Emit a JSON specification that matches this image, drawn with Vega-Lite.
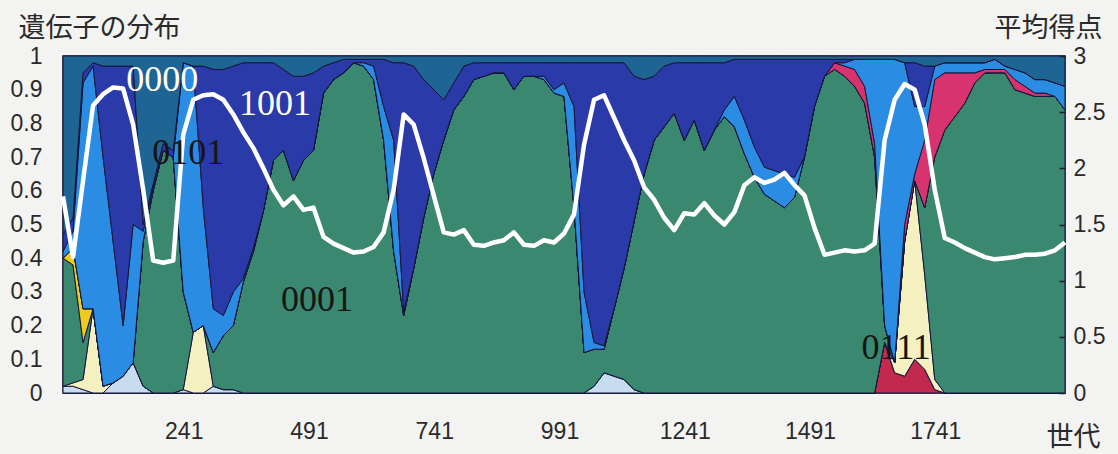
{
 "$schema": "https://vega.github.io/schema/vega-lite/v6.json",
 "width": 1002, "height": 337,
 "autosize": {"type": "none"},
 "padding": {"left": 63, "top": 56, "right": 53, "bottom": 61},
 "background": "#f3f3f1",
 "config": {
  "view": {"stroke": "#1c1c30", "strokeWidth": 1.5},
  "axis": {"labelFont": "Liberation Sans", "labelFontSize": 23, "labelColor": "#2a2a2a", "titleFont": "Noto Sans CJK JP", "titleFontSize": 27, "titleFontWeight": "normal", "titleColor": "#2a2a2a", "domain": false, "ticks": false, "grid": false}
 },
 "data": {"values": [
  {"gen":0,"a_red":0,"b_pale":0.02,"c_0111":0,"d_0001":0.38,"e_yel":0,"f_mag":0,"g_0000":0.02,"h_1001":0.05,"i_0101":0.53,"score":1.75},
  {"gen":20,"a_red":0,"b_pale":0.02,"c_0111":0.01,"d_0001":0.35,"e_yel":0.05,"f_mag":0,"g_0000":0.05,"h_1001":0.04,"i_0101":0.48,"score":1.21},
  {"gen":40,"a_red":0,"b_pale":0.01,"c_0111":0.03,"d_0001":0.11,"e_yel":0.10,"f_mag":0,"g_0000":0.67,"h_1001":0.03,"i_0101":0.05,"score":1.89},
  {"gen":60,"a_red":0,"b_pale":0,"c_0111":0.25,"d_0001":0,"e_yel":0,"f_mag":0,"g_0000":0.72,"h_1001":0.01,"i_0101":0.02,"score":2.56},
  {"gen":80,"a_red":0,"b_pale":0,"c_0111":0.02,"d_0001":0,"e_yel":0,"f_mag":0,"g_0000":0.68,"h_1001":0.27,"i_0101":0.03,"score":2.66},
  {"gen":100,"a_red":0,"b_pale":0.03,"c_0111":0,"d_0001":0,"e_yel":0,"f_mag":0,"g_0000":0.42,"h_1001":0.52,"i_0101":0.03,"score":2.72},
  {"gen":120,"a_red":0,"b_pale":0.05,"c_0111":0,"d_0001":0,"e_yel":0,"f_mag":0,"g_0000":0.15,"h_1001":0.77,"i_0101":0.03,"score":2.71},
  {"gen":140,"a_red":0,"b_pale":0.09,"c_0111":0,"d_0001":0,"e_yel":0,"f_mag":0,"g_0000":0.41,"h_1001":0.47,"i_0101":0.03,"score":2.39},
  {"gen":160,"a_red":0,"b_pale":0.02,"c_0111":0,"d_0001":0.43,"e_yel":0,"f_mag":0,"g_0000":0.03,"h_1001":0.02,"i_0101":0.50,"score":1.81},
  {"gen":180,"a_red":0,"b_pale":0,"c_0111":0,"d_0001":0.60,"e_yel":0,"f_mag":0,"g_0000":0.01,"h_1001":0.01,"i_0101":0.38,"score":1.18},
  {"gen":200,"a_red":0,"b_pale":0,"c_0111":0,"d_0001":0.72,"e_yel":0,"f_mag":0,"g_0000":0,"h_1001":0.02,"i_0101":0.26,"score":1.16},
  {"gen":220,"a_red":0,"b_pale":0,"c_0111":0,"d_0001":0.70,"e_yel":0,"f_mag":0,"g_0000":0,"h_1001":0.02,"i_0101":0.28,"score":1.18},
  {"gen":240,"a_red":0,"b_pale":0.01,"c_0111":0,"d_0001":0.29,"e_yel":0,"f_mag":0,"g_0000":0.68,"h_1001":0,"i_0101":0.02,"score":2.30},
  {"gen":260,"a_red":0,"b_pale":0,"c_0111":0.18,"d_0001":0,"e_yel":0,"f_mag":0,"g_0000":0.79,"h_1001":0,"i_0101":0.03,"score":2.61},
  {"gen":280,"a_red":0,"b_pale":0,"c_0111":0.20,"d_0001":0,"e_yel":0,"f_mag":0,"g_0000":0.35,"h_1001":0.42,"i_0101":0.03,"score":2.65},
  {"gen":300,"a_red":0,"b_pale":0.02,"c_0111":0,"d_0001":0.10,"e_yel":0,"f_mag":0,"g_0000":0.13,"h_1001":0.71,"i_0101":0.04,"score":2.66},
  {"gen":320,"a_red":0,"b_pale":0.01,"c_0111":0,"d_0001":0.16,"e_yel":0,"f_mag":0,"g_0000":0.06,"h_1001":0.73,"i_0101":0.04,"score":2.61},
  {"gen":340,"a_red":0,"b_pale":0.01,"c_0111":0,"d_0001":0.19,"e_yel":0,"f_mag":0,"g_0000":0.10,"h_1001":0.67,"i_0101":0.03,"score":2.48},
  {"gen":360,"a_red":0,"b_pale":0,"c_0111":0,"d_0001":0.33,"e_yel":0,"f_mag":0,"g_0000":0.01,"h_1001":0.64,"i_0101":0.02,"score":2.32},
  {"gen":380,"a_red":0,"b_pale":0,"c_0111":0,"d_0001":0.42,"e_yel":0,"f_mag":0,"g_0000":0.01,"h_1001":0.55,"i_0101":0.02,"score":2.18},
  {"gen":400,"a_red":0,"b_pale":0,"c_0111":0,"d_0001":0.54,"e_yel":0,"f_mag":0,"g_0000":0,"h_1001":0.44,"i_0101":0.02,"score":2.00},
  {"gen":420,"a_red":0,"b_pale":0,"c_0111":0,"d_0001":0.69,"e_yel":0,"f_mag":0,"g_0000":0,"h_1001":0.29,"i_0101":0.02,"score":1.81},
  {"gen":440,"a_red":0,"b_pale":0,"c_0111":0,"d_0001":0.72,"e_yel":0,"f_mag":0,"g_0000":0,"h_1001":0.24,"i_0101":0.04,"score":1.67},
  {"gen":460,"a_red":0,"b_pale":0,"c_0111":0,"d_0001":0.63,"e_yel":0,"f_mag":0,"g_0000":0,"h_1001":0.31,"i_0101":0.06,"score":1.75},
  {"gen":480,"a_red":0,"b_pale":0,"c_0111":0,"d_0001":0.69,"e_yel":0,"f_mag":0,"g_0000":0,"h_1001":0.25,"i_0101":0.06,"score":1.63},
  {"gen":500,"a_red":0,"b_pale":0,"c_0111":0,"d_0001":0.72,"e_yel":0,"f_mag":0,"g_0000":0,"h_1001":0.23,"i_0101":0.05,"score":1.65},
  {"gen":520,"a_red":0,"b_pale":0,"c_0111":0,"d_0001":0.89,"e_yel":0,"f_mag":0,"g_0000":0,"h_1001":0.08,"i_0101":0.03,"score":1.39},
  {"gen":540,"a_red":0,"b_pale":0,"c_0111":0,"d_0001":0.93,"e_yel":0,"f_mag":0,"g_0000":0,"h_1001":0.05,"i_0101":0.02,"score":1.33},
  {"gen":560,"a_red":0,"b_pale":0,"c_0111":0,"d_0001":0.95,"e_yel":0,"f_mag":0,"g_0000":0,"h_1001":0.04,"i_0101":0.01,"score":1.29},
  {"gen":580,"a_red":0,"b_pale":0,"c_0111":0,"d_0001":0.98,"e_yel":0,"f_mag":0,"g_0000":0,"h_1001":0.01,"i_0101":0.01,"score":1.25},
  {"gen":600,"a_red":0,"b_pale":0,"c_0111":0,"d_0001":0.97,"e_yel":0,"f_mag":0,"g_0000":0.01,"h_1001":0.01,"i_0101":0.01,"score":1.26},
  {"gen":620,"a_red":0,"b_pale":0,"c_0111":0,"d_0001":0.93,"e_yel":0,"f_mag":0,"g_0000":0.04,"h_1001":0.02,"i_0101":0.01,"score":1.30},
  {"gen":640,"a_red":0,"b_pale":0,"c_0111":0,"d_0001":0.75,"e_yel":0,"f_mag":0,"g_0000":0.10,"h_1001":0.14,"i_0101":0.01,"score":1.43},
  {"gen":660,"a_red":0,"b_pale":0,"c_0111":0,"d_0001":0.42,"e_yel":0,"f_mag":0,"g_0000":0.33,"h_1001":0.23,"i_0101":0.02,"score":1.81},
  {"gen":680,"a_red":0,"b_pale":0,"c_0111":0,"d_0001":0.23,"e_yel":0,"f_mag":0,"g_0000":0.01,"h_1001":0.74,"i_0101":0.02,"score":2.48},
  {"gen":700,"a_red":0,"b_pale":0,"c_0111":0,"d_0001":0.37,"e_yel":0,"f_mag":0,"g_0000":0,"h_1001":0.60,"i_0101":0.03,"score":2.39},
  {"gen":720,"a_red":0,"b_pale":0,"c_0111":0,"d_0001":0.52,"e_yel":0,"f_mag":0,"g_0000":0,"h_1001":0.41,"i_0101":0.07,"score":2.09},
  {"gen":740,"a_red":0,"b_pale":0,"c_0111":0,"d_0001":0.65,"e_yel":0,"f_mag":0,"g_0000":0,"h_1001":0.25,"i_0101":0.10,"score":1.76},
  {"gen":760,"a_red":0,"b_pale":0,"c_0111":0,"d_0001":0.75,"e_yel":0,"f_mag":0,"g_0000":0,"h_1001":0.12,"i_0101":0.13,"score":1.43},
  {"gen":780,"a_red":0,"b_pale":0,"c_0111":0,"d_0001":0.84,"e_yel":0,"f_mag":0,"g_0000":0,"h_1001":0.08,"i_0101":0.08,"score":1.41},
  {"gen":800,"a_red":0,"b_pale":0,"c_0111":0,"d_0001":0.88,"e_yel":0,"f_mag":0,"g_0000":0,"h_1001":0.09,"i_0101":0.03,"score":1.45},
  {"gen":820,"a_red":0,"b_pale":0,"c_0111":0,"d_0001":0.93,"e_yel":0,"f_mag":0,"g_0000":0,"h_1001":0.05,"i_0101":0.02,"score":1.32},
  {"gen":840,"a_red":0,"b_pale":0,"c_0111":0,"d_0001":0.94,"e_yel":0,"f_mag":0,"g_0000":0,"h_1001":0.04,"i_0101":0.02,"score":1.31},
  {"gen":860,"a_red":0,"b_pale":0,"c_0111":0,"d_0001":0.95,"e_yel":0,"f_mag":0,"g_0000":0,"h_1001":0.03,"i_0101":0.02,"score":1.34},
  {"gen":880,"a_red":0,"b_pale":0,"c_0111":0,"d_0001":0.95,"e_yel":0,"f_mag":0,"g_0000":0,"h_1001":0.03,"i_0101":0.02,"score":1.36},
  {"gen":900,"a_red":0,"b_pale":0,"c_0111":0,"d_0001":0.90,"e_yel":0,"f_mag":0,"g_0000":0,"h_1001":0.08,"i_0101":0.02,"score":1.43},
  {"gen":920,"a_red":0,"b_pale":0,"c_0111":0,"d_0001":0.94,"e_yel":0,"f_mag":0,"g_0000":0,"h_1001":0.04,"i_0101":0.02,"score":1.32},
  {"gen":940,"a_red":0,"b_pale":0,"c_0111":0,"d_0001":0.94,"e_yel":0,"f_mag":0,"g_0000":0,"h_1001":0.04,"i_0101":0.02,"score":1.31},
  {"gen":960,"a_red":0,"b_pale":0,"c_0111":0,"d_0001":0.93,"e_yel":0,"f_mag":0,"g_0000":0.01,"h_1001":0.04,"i_0101":0.02,"score":1.36},
  {"gen":980,"a_red":0,"b_pale":0,"c_0111":0,"d_0001":0.89,"e_yel":0,"f_mag":0,"g_0000":0.01,"h_1001":0.08,"i_0101":0.02,"score":1.34},
  {"gen":1000,"a_red":0,"b_pale":0,"c_0111":0,"d_0001":0.88,"e_yel":0,"f_mag":0,"g_0000":0.04,"h_1001":0.06,"i_0101":0.02,"score":1.42},
  {"gen":1020,"a_red":0,"b_pale":0,"c_0111":0,"d_0001":0.55,"e_yel":0,"f_mag":0,"g_0000":0.30,"h_1001":0.13,"i_0101":0.02,"score":1.59},
  {"gen":1040,"a_red":0,"b_pale":0,"c_0111":0,"d_0001":0.12,"e_yel":0,"f_mag":0,"g_0000":0.18,"h_1001":0.68,"i_0101":0.02,"score":2.21},
  {"gen":1060,"a_red":0,"b_pale":0.02,"c_0111":0,"d_0001":0.11,"e_yel":0,"f_mag":0,"g_0000":0.02,"h_1001":0.83,"i_0101":0.02,"score":2.61},
  {"gen":1080,"a_red":0,"b_pale":0.06,"c_0111":0,"d_0001":0.07,"e_yel":0,"f_mag":0,"g_0000":0.01,"h_1001":0.84,"i_0101":0.02,"score":2.65},
  {"gen":1100,"a_red":0,"b_pale":0.05,"c_0111":0,"d_0001":0.20,"e_yel":0,"f_mag":0,"g_0000":0,"h_1001":0.73,"i_0101":0.02,"score":2.45},
  {"gen":1120,"a_red":0,"b_pale":0.04,"c_0111":0,"d_0001":0.33,"e_yel":0,"f_mag":0,"g_0000":0,"h_1001":0.61,"i_0101":0.02,"score":2.25},
  {"gen":1140,"a_red":0,"b_pale":0.01,"c_0111":0,"d_0001":0.50,"e_yel":0,"f_mag":0,"g_0000":0,"h_1001":0.43,"i_0101":0.06,"score":2.07},
  {"gen":1160,"a_red":0,"b_pale":0,"c_0111":0,"d_0001":0.65,"e_yel":0,"f_mag":0,"g_0000":0,"h_1001":0.28,"i_0101":0.07,"score":1.83},
  {"gen":1180,"a_red":0,"b_pale":0,"c_0111":0,"d_0001":0.75,"e_yel":0,"f_mag":0,"g_0000":0,"h_1001":0.19,"i_0101":0.06,"score":1.72},
  {"gen":1200,"a_red":0,"b_pale":0,"c_0111":0,"d_0001":0.79,"e_yel":0,"f_mag":0,"g_0000":0,"h_1001":0.18,"i_0101":0.03,"score":1.56},
  {"gen":1220,"a_red":0,"b_pale":0,"c_0111":0,"d_0001":0.83,"e_yel":0,"f_mag":0,"g_0000":0,"h_1001":0.15,"i_0101":0.02,"score":1.45},
  {"gen":1240,"a_red":0,"b_pale":0,"c_0111":0,"d_0001":0.75,"e_yel":0,"f_mag":0,"g_0000":0,"h_1001":0.23,"i_0101":0.02,"score":1.60},
  {"gen":1260,"a_red":0,"b_pale":0,"c_0111":0,"d_0001":0.81,"e_yel":0,"f_mag":0,"g_0000":0,"h_1001":0.17,"i_0101":0.02,"score":1.59},
  {"gen":1280,"a_red":0,"b_pale":0,"c_0111":0,"d_0001":0.72,"e_yel":0,"f_mag":0,"g_0000":0,"h_1001":0.26,"i_0101":0.02,"score":1.69},
  {"gen":1300,"a_red":0,"b_pale":0,"c_0111":0,"d_0001":0.78,"e_yel":0,"f_mag":0,"g_0000":0,"h_1001":0.20,"i_0101":0.02,"score":1.58},
  {"gen":1320,"a_red":0,"b_pale":0,"c_0111":0,"d_0001":0.82,"e_yel":0,"f_mag":0,"g_0000":0.02,"h_1001":0.14,"i_0101":0.02,"score":1.50},
  {"gen":1340,"a_red":0,"b_pale":0,"c_0111":0,"d_0001":0.79,"e_yel":0,"f_mag":0,"g_0000":0.09,"h_1001":0.11,"i_0101":0.01,"score":1.61},
  {"gen":1360,"a_red":0,"b_pale":0,"c_0111":0,"d_0001":0.71,"e_yel":0,"f_mag":0,"g_0000":0.10,"h_1001":0.18,"i_0101":0.01,"score":1.85},
  {"gen":1380,"a_red":0,"b_pale":0,"c_0111":0,"d_0001":0.64,"e_yel":0,"f_mag":0,"g_0000":0.09,"h_1001":0.26,"i_0101":0.01,"score":1.92},
  {"gen":1400,"a_red":0,"b_pale":0,"c_0111":0,"d_0001":0.59,"e_yel":0,"f_mag":0,"g_0000":0.08,"h_1001":0.32,"i_0101":0.01,"score":1.87},
  {"gen":1420,"a_red":0,"b_pale":0,"c_0111":0,"d_0001":0.57,"e_yel":0,"f_mag":0,"g_0000":0.09,"h_1001":0.33,"i_0101":0.01,"score":1.90},
  {"gen":1440,"a_red":0,"b_pale":0,"c_0111":0,"d_0001":0.55,"e_yel":0,"f_mag":0,"g_0000":0.10,"h_1001":0.34,"i_0101":0.01,"score":1.96},
  {"gen":1460,"a_red":0,"b_pale":0,"c_0111":0,"d_0001":0.58,"e_yel":0,"f_mag":0,"g_0000":0.06,"h_1001":0.35,"i_0101":0.01,"score":1.85},
  {"gen":1480,"a_red":0,"b_pale":0,"c_0111":0,"d_0001":0.70,"e_yel":0,"f_mag":0,"g_0000":0,"h_1001":0.29,"i_0101":0.01,"score":1.76},
  {"gen":1500,"a_red":0,"b_pale":0,"c_0111":0,"d_0001":0.85,"e_yel":0,"f_mag":0,"g_0000":0,"h_1001":0.14,"i_0101":0.01,"score":1.47},
  {"gen":1520,"a_red":0,"b_pale":0,"c_0111":0,"d_0001":0.94,"e_yel":0,"f_mag":0,"g_0000":0,"h_1001":0.05,"i_0101":0.01,"score":1.23},
  {"gen":1540,"a_red":0,"b_pale":0,"c_0111":0,"d_0001":0.96,"e_yel":0,"f_mag":0.02,"g_0000":0,"h_1001":0.01,"i_0101":0.01,"score":1.25},
  {"gen":1560,"a_red":0,"b_pale":0,"c_0111":0,"d_0001":0.94,"e_yel":0,"f_mag":0.03,"g_0000":0.01,"h_1001":0.01,"i_0101":0.01,"score":1.27},
  {"gen":1580,"a_red":0,"b_pale":0,"c_0111":0,"d_0001":0.91,"e_yel":0,"f_mag":0.05,"g_0000":0.03,"h_1001":0,"i_0101":0.01,"score":1.26},
  {"gen":1600,"a_red":0,"b_pale":0,"c_0111":0,"d_0001":0.86,"e_yel":0,"f_mag":0.05,"g_0000":0.08,"h_1001":0,"i_0101":0.01,"score":1.27},
  {"gen":1620,"a_red":0,"b_pale":0,"c_0111":0,"d_0001":0.70,"e_yel":0,"f_mag":0.04,"g_0000":0.25,"h_1001":0,"i_0101":0.01,"score":1.33},
  {"gen":1640,"a_red":0.15,"b_pale":0,"c_0111":0,"d_0001":0.05,"e_yel":0,"f_mag":0,"g_0000":0.79,"h_1001":0,"i_0101":0.01,"score":2.25},
  {"gen":1660,"a_red":0.06,"b_pale":0,"c_0111":0.03,"d_0001":0,"e_yel":0,"f_mag":0,"g_0000":0.90,"h_1001":0,"i_0101":0.01,"score":2.61},
  {"gen":1680,"a_red":0.05,"b_pale":0,"c_0111":0.40,"d_0001":0,"e_yel":0,"f_mag":0.05,"g_0000":0.48,"h_1001":0,"i_0101":0.02,"score":2.75},
  {"gen":1700,"a_red":0.10,"b_pale":0,"c_0111":0.53,"d_0001":0,"e_yel":0,"f_mag":0.02,"g_0000":0.20,"h_1001":0.13,"i_0101":0.02,"score":2.70},
  {"gen":1720,"a_red":0.07,"b_pale":0,"c_0111":0.28,"d_0001":0.20,"e_yel":0,"f_mag":0.20,"g_0000":0.10,"h_1001":0.12,"i_0101":0.03,"score":2.39},
  {"gen":1740,"a_red":0.01,"b_pale":0,"c_0111":0.03,"d_0001":0.66,"e_yel":0,"f_mag":0.23,"g_0000":0.04,"h_1001":0,"i_0101":0.03,"score":1.81},
  {"gen":1760,"a_red":0,"b_pale":0,"c_0111":0,"d_0001":0.78,"e_yel":0,"f_mag":0.17,"g_0000":0.03,"h_1001":0,"i_0101":0.02,"score":1.38},
  {"gen":1780,"a_red":0,"b_pale":0,"c_0111":0,"d_0001":0.82,"e_yel":0,"f_mag":0.13,"g_0000":0.03,"h_1001":0,"i_0101":0.02,"score":1.34},
  {"gen":1800,"a_red":0,"b_pale":0,"c_0111":0,"d_0001":0.86,"e_yel":0,"f_mag":0.09,"g_0000":0.03,"h_1001":0,"i_0101":0.02,"score":1.29},
  {"gen":1820,"a_red":0,"b_pale":0,"c_0111":0,"d_0001":0.92,"e_yel":0,"f_mag":0.03,"g_0000":0.03,"h_1001":0,"i_0101":0.02,"score":1.25},
  {"gen":1840,"a_red":0,"b_pale":0,"c_0111":0,"d_0001":0.95,"e_yel":0,"f_mag":0.01,"g_0000":0.02,"h_1001":0,"i_0101":0.02,"score":1.21},
  {"gen":1860,"a_red":0,"b_pale":0,"c_0111":0,"d_0001":0.95,"e_yel":0,"f_mag":0.01,"g_0000":0.03,"h_1001":0,"i_0101":0.01,"score":1.19},
  {"gen":1880,"a_red":0,"b_pale":0,"c_0111":0,"d_0001":0.95,"e_yel":0,"f_mag":0.01,"g_0000":0.01,"h_1001":0,"i_0101":0.03,"score":1.20},
  {"gen":1900,"a_red":0,"b_pale":0,"c_0111":0,"d_0001":0.90,"e_yel":0,"f_mag":0.03,"g_0000":0.03,"h_1001":0,"i_0101":0.04,"score":1.21},
  {"gen":1920,"a_red":0,"b_pale":0,"c_0111":0,"d_0001":0.89,"e_yel":0,"f_mag":0.02,"g_0000":0.04,"h_1001":0,"i_0101":0.05,"score":1.23},
  {"gen":1940,"a_red":0,"b_pale":0,"c_0111":0,"d_0001":0.88,"e_yel":0,"f_mag":0.01,"g_0000":0.04,"h_1001":0,"i_0101":0.07,"score":1.23},
  {"gen":1960,"a_red":0,"b_pale":0,"c_0111":0,"d_0001":0.88,"e_yel":0,"f_mag":0.01,"g_0000":0.04,"h_1001":0,"i_0101":0.07,"score":1.24},
  {"gen":1980,"a_red":0,"b_pale":0,"c_0111":0,"d_0001":0.88,"e_yel":0,"f_mag":0,"g_0000":0.04,"h_1001":0,"i_0101":0.08,"score":1.27},
  {"gen":2000,"a_red":0,"b_pale":0,"c_0111":0,"d_0001":0.84,"e_yel":0,"f_mag":0,"g_0000":0.07,"h_1001":0,"i_0101":0.09,"score":1.34}
 ]},
 "encoding": {
  "x": {"field": "gen", "type": "quantitative", "title": "世代",
   "scale": {"domain": [0, 2000], "nice": false, "zero": false},
   "axis": {"values": [241, 491, 741, 991, 1241, 1491, 1741], "format": "d", "labelPadding": 27, "titleAngle": 0, "titleAlign": "right", "titleBaseline": "middle", "titleX": 1037, "titleY": 44}}
 },
 "layer": [
  {
   "transform": [{"fold": ["a_red", "b_pale", "c_0111", "d_0001", "e_yel", "f_mag", "g_0000", "h_1001", "i_0101"], "as": ["gene", "share"]}],
   "mark": {"type": "area", "interpolate": "linear", "stroke": "#15163a", "strokeWidth": 1, "strokeJoin": "round"},
   "encoding": {
    "y": {"field": "share", "type": "quantitative", "stack": "zero", "title": "遺伝子の分布",
     "scale": {"domain": [0, 1], "nice": false},
     "axis": {"orient": "left", "values": [0, 0.1, 0.2, 0.3, 0.4, 0.5, 0.6, 0.7, 0.8, 0.9, 1], "format": "~g", "labelPadding": 21, "titleAngle": 0, "titleAlign": "left", "titleBaseline": "middle", "titleX": -45, "titleY": -28}},
    "order": {"field": "gene", "type": "nominal", "sort": "ascending"},
    "color": {"field": "gene", "type": "nominal",
     "scale": {"domain": ["a_red", "b_pale", "c_0111", "d_0001", "e_yel", "f_mag", "g_0000", "h_1001", "i_0101"],
      "range": ["#c3294e", "#c8dcef", "#f5f0c0", "#3b8870", "#efcb1e", "#d6336f", "#2b8ce4", "#2b3aa9", "#1f6594"]},
     "legend": null}
   }
  },
  {
   "mark": {"type": "line", "color": "#ffffff", "strokeWidth": 4.5, "interpolate": "linear", "strokeJoin": "round"},
   "encoding": {
    "y": {"field": "score", "type": "quantitative", "title": "平均得点",
     "scale": {"domain": [0, 3], "nice": false},
     "axis": {"orient": "right", "zindex": 1, "values": [0, 0.5, 1, 1.5, 2, 2.5, 3], "format": "~g", "ticks": true, "tickSize": -6, "tickColor": "#1c1c30", "tickWidth": 1.5, "labelPadding": 14, "titleAngle": 0, "titleAlign": "right", "titleBaseline": "middle", "titleX": 37, "titleY": -28}}
   }
  },
  {
   "data": {"values": [
    {"gen": 198, "share": 0.929, "label": "0000"},
    {"gen": 423, "share": 0.858, "label": "1001"}
   ]},
   "mark": {"type": "text", "font": "Liberation Serif", "fontSize": 36, "align": "center", "baseline": "middle", "color": "#ffffff"},
   "encoding": {
    "y": {"field": "share", "type": "quantitative", "scale": {"domain": [0, 1], "nice": false}, "axis": null},
    "text": {"field": "label"}
   }
  },
  {
   "data": {"values": [
    {"gen": 250, "share": 0.712, "label": "0101"},
    {"gen": 507, "share": 0.276, "label": "0001"},
    {"gen": 1663, "share": 0.134, "label": "0111"}
   ]},
   "mark": {"type": "text", "font": "Liberation Serif", "fontSize": 36, "align": "center", "baseline": "middle", "color": "#161616"},
   "encoding": {
    "y": {"field": "share", "type": "quantitative", "scale": {"domain": [0, 1], "nice": false}, "axis": null},
    "text": {"field": "label"}
   }
  }
 ],
 "resolve": {"scale": {"y": "independent"}}
}
